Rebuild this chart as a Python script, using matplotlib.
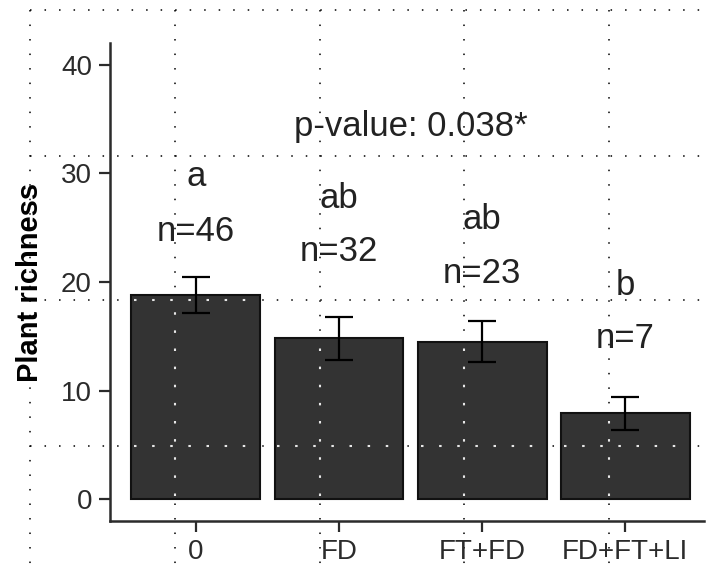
import numpy as np
import matplotlib
matplotlib.use("Agg")
import matplotlib.pyplot as plt
from matplotlib.lines import Line2D

# data
groups = ["0", "FD", "FT+FD", "FD+FT+LI"]
means = [18.8, 14.8, 14.5, 7.9]
se = [1.65, 1.95, 1.9, 1.5]
letters = ["a", "ab", "ab", "b"]
n_labels = ["n=46", "n=32", "n=23", "n=7"]
n_y = [23.8, 21.9, 19.9, 13.9]
letter_y = [28.8, 26.8, 24.9, 18.8]
p_text = "p-value: 0.038*"
y_ticks = [0, 10, 20, 30, 40]

plt.rcParams["font.family"] = ["Liberation Sans", "DejaVu Sans"]

fig = plt.figure(figsize=(7.12, 5.76), dpi=100)
ax = fig.add_axes([110 / 712, 1 - 521 / 576, (704 - 110) / 712, (521 - 43) / 576])
ax.patch.set_alpha(0)

x = np.arange(len(groups))
bars = ax.bar(x, means, width=0.9, color="#333333", edgecolor="#111111", linewidth=1.5, zorder=2)
ax.errorbar(x, means, yerr=se, fmt="none", ecolor="black", elinewidth=1.6,
            capsize=10, capthick=1.6, zorder=3)

for i in range(len(groups)):
    ax.text(x[i], n_y[i], n_labels[i], ha="center", va="baseline", fontsize=25, color="#222222")
    ax.text(x[i], letter_y[i], letters[i], ha="center", va="baseline", fontsize=25, color="#222222")
ax.text(1.5, 33.4, p_text, ha="center", va="baseline", fontsize=25, color="#222222")

ax.set_xlim(-0.6, 3.55)
ax.set_ylim(-2, 42)
ax.set_xticks(x)
ax.set_xticklabels(groups)
ax.set_yticks(y_ticks)
ax.set_ylabel("Plant richness", fontsize=21, fontweight="bold", labelpad=12)

for s in ["top", "right"]:
    ax.spines[s].set_visible(False)
for s in ["left", "bottom"]:
    ax.spines[s].set_linewidth(1.8)
    ax.spines[s].set_color("#2b2b2b")
ax.tick_params(axis="both", length=8, width=1.6, color="#2b2b2b", labelsize=20,
               labelcolor="#2b2b2b", pad=5)

# dotted page grid over the picture
W, H = 712, 576
gx = [30, 175, 320, 464, 609]
gy = [10, 156, 300, 446]
dot = dict(linestyle=(0, (1, 8.5)), linewidth=1.1)
for xp in gx:
    fig.add_artist(Line2D([xp / W, xp / W], [1 - 10 / H, 0], transform=fig.transFigure,
                          color="black", zorder=-1, **dot))
for yp in gy:
    fig.add_artist(Line2D([30 / W, 1], [1 - yp / H, 1 - yp / H], transform=fig.transFigure,
                          color="black", zorder=-1, **dot))

# the same grid shows light on top of the dark bars (pixel -> data by hand)
def px_to_x(xp):
    return -0.6 + (xp - 110) / (704 - 110) * 4.15

def px_to_y(yp):
    return -2 + (521 - yp) / (521 - 43) * 44

light = dict(color="#e8e8e8", linestyle=(0, (1.2, 7.5)), linewidth=1.5, zorder=4)
for b in bars:
    x0, x1 = b.get_x(), b.get_x() + b.get_width()
    top = b.get_height()
    for xp in gx:
        xd = px_to_x(xp)
        if x0 < xd < x1:
            ax.add_line(Line2D([xd, xd], [0.3, top - 0.3], **light))
    for yp in gy:
        yd = px_to_y(yp)
        if 0 < yd < top:
            ax.add_line(Line2D([x0 + 0.02, x1 - 0.02], [yd, yd], **light))

fig.savefig("out.png", dpi=100)
